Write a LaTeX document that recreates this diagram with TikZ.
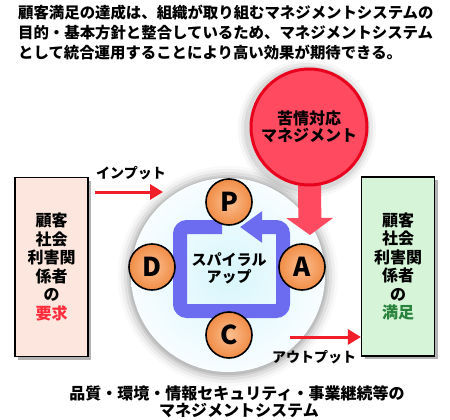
\documentclass[tikz,border=0pt]{standalone}
\usepackage{fontspec}
\setmainfont{Noto Sans CJK JP}
\newfontfamily\heavy{Noto Sans CJK JP Black}
\usetikzlibrary{arrows.meta,shadows}
\pgfdeclarelayer{back}
\pgfdeclarelayer{mid}
\pgfsetlayers{back,mid,main}
\definecolor{redfill}{RGB}{255,74,96}
\definecolor{redline}{RGB}{232,0,28}
\definecolor{arrowred}{RGB}{240,30,40}
\definecolor{loopblue}{RGB}{108,108,240}
\definecolor{orangeout}{RGB}{240,140,70}
\definecolor{orangein}{RGB}{252,192,145}
\definecolor{pinkbox}{RGB}{253,230,222}
\definecolor{greenbox}{RGB}{214,245,216}
\definecolor{greentext}{RGB}{40,130,60}
\definecolor{reqred}{RGB}{255,45,60}
\definecolor{cyanin}{RGB}{215,246,252}
\definecolor{cyanout}{RGB}{248,253,255}
\begin{document}
\begin{tikzpicture}[x=1pt,y=-1pt,
  titletext/.style={anchor=west,inner sep=0pt,font=\fontsize{15.4}{18}\selectfont\bfseries},
  sidebox/.style={draw=black,line width=1.2pt,minimum width=73pt,minimum height=179pt,align=center,inner sep=0pt,font=\fontsize{16}{18.5}\selectfont\heavy,drop shadow={shadow xshift=3pt,shadow yshift=-3pt,fill=black!60,opacity=0.5}},
  pdca/.style={circle,draw=black,line width=1.6pt,minimum size=46pt,inner sep=0pt,inner color=orangein,outer color=orangeout,font=\fontsize{26}{26}\selectfont\heavy},
  flowarrow/.style={draw=arrowred,line width=3pt,-{Triangle[length=13pt,width=15pt]}},
  flowlabel/.style={inner sep=0pt,font=\fontsize{14}{16}\selectfont\bfseries},
  bottomtext/.style={inner sep=0pt,font=\fontsize{16}{17}\selectfont\bfseries}]
\begin{pgfonlayer}{back}
\useasboundingbox[fill=white] (0,0) rectangle (450,420);
\end{pgfonlayer}

% title
\node[titletext] (t1) at (18,13) {顧客満足の達成は、組織が取り組むマネジメントシステムの};
\node[titletext] (t2) at (18,33) {目的・基本方針と整合しているため、マネジメントシステム};
\node[titletext] (t3) at (18,53) {として統合運用することにより高い効果が期待できる。};

% big circle with soft shadow
\begin{pgfonlayer}{back}
\foreach \r/\o in {110/0.025,107/0.04,104/0.06,101/0.08,99/0.08} \fill[black,opacity=\o] (228,276) circle (\r pt);
\foreach \r/\o in {69/0.03,66/0.05,63/0.07} \fill[black,opacity=\o] (307,129) circle (\r pt);
\node[circle,minimum size=194pt,inner sep=0pt,inner color=cyanin,outer color=cyanout] (big) at (228,275) {};
\end{pgfonlayer}

% spiral loop
\draw[loopblue,line width=14pt,rounded corners=7pt,-{Triangle[length=22pt,width=30pt]}]
  (222,227) -- (180,227) -- (180,311) -- (283,311) -- (283,227) -- (240,227);

\node[inner sep=0pt,align=center,font=\fontsize{15}{17}\selectfont\heavy] (spiral) at (229,268) {スパイラル\\アップ};

% PDCA
\node[pdca] (P) at (229,202) {P};
\node[pdca] (D) at (152,267) {D};
\node[pdca] (A) at (302,267) {A};
\node[pdca] (C) at (229,335) {C};

% complaint circle and arrow
\node[circle,draw=redline,line width=3pt,fill=redfill,minimum size=116pt,inner sep=0pt,align=center,font=\fontsize{16}{17}\selectfont\heavy] (comp) at (309,127) {苦情対応\\マネジメント};
\coordinate (comptip) at (310,235);
\begin{pgfonlayer}{mid}
\draw[redfill,line width=23pt,-{Triangle[length=17pt,width=46pt]}] (comp.center) -- (comptip);
\end{pgfonlayer}

% side boxes
\node[sidebox,fill=pinkbox] (lbox) at (51.5,267) {顧客\\社会\\利害関\\係者\\の\\\textcolor{reqred}{要求}};
\node[sidebox,fill=greenbox] (rbox) at (398,266.5) {顧客\\社会\\利害関\\係者\\の\\\textcolor{greentext}{満足}};

% input / output
\coordinate (inS) at (95,192);
\coordinate (inE) at (163,192);
\draw[flowarrow] (inS) -- (inE);
\node[flowlabel] (inlab) at (131,173) {インプット};
\coordinate (outS) at (290,337);
\draw[flowarrow] (outS) -- (outS -| rbox.west);
\node[flowlabel] (outlab) at (314,357) {アウトプット};

% bottom caption
\node[bottomtext] (b1) at (237,393) {品質・環境・情報セキュリティ・事業継続等の};
\node[bottomtext] (b2) at (239,410) {マネジメントシステム};
\end{tikzpicture}
\end{document}
